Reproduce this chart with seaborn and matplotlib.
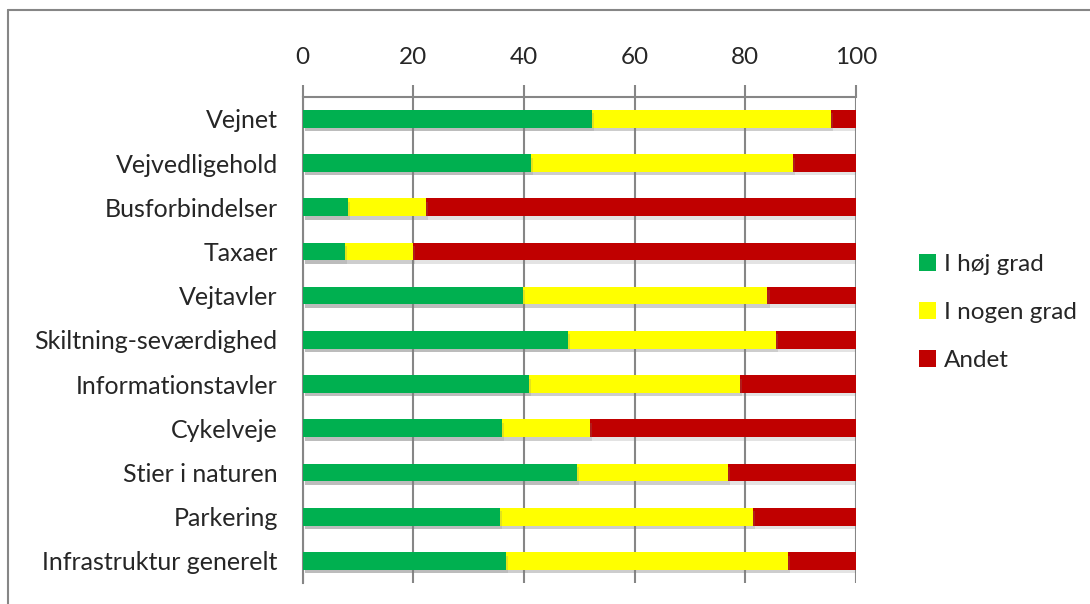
import pandas as pd
import matplotlib.pyplot as plt
import matplotlib.patheffects as pe
from matplotlib.patches import Patch
from matplotlib.lines import Line2D
import seaborn as sns

# data (percent)
categories = ['Vejnet', 'Vejvedligehold', 'Busforbindelser', 'Taxaer', 'Vejtavler',
              'Skiltning-seværdighed', 'Informationstavler', 'Cykelveje',
              'Stier i naturen', 'Parkering', 'Infrastruktur generelt']
hoej_grad = [52.2, 41.2, 8.1, 7.7, 39.8, 47.9, 40.9, 36.0, 49.5, 35.7, 36.7]
nogen_grad = [43.2, 47.4, 14.2, 12.2, 44.2, 37.7, 38.2, 15.9, 27.4, 45.6, 51.0]
andet = [100 - a - b for a, b in zip(hoej_grad, nogen_grad)]

series_names = ['I høj grad', 'I nogen grad', 'Andet']
colors = ['#00B050', '#FFFF00', '#C00000']

df = pd.DataFrame({'cat': categories, 'green': hoej_grad, 'yellow': nogen_grad, 'red': andet})
df['c_yellow'] = df['green'] + df['yellow']
df['c_red'] = df['c_yellow'] + df['red']

sns.set_style('white')
plt.rcParams['font.family'] = ['Lato', 'DejaVu Sans']

fig = plt.figure(figsize=(10.9, 6.04), dpi=100)
ax = fig.add_axes([0.2777, 0.0348, 0.7853 - 0.2777, 0.8399 - 0.0348])

# stacked bars: draw cumulative totals back to front
shadow = [pe.SimplePatchShadow(offset=(1.5, -2.5), shadow_rgbFace='gray', alpha=0.22), pe.Normal()]
for col, c in zip(['c_red', 'c_yellow', 'green'], colors[::-1]):
    sns.barplot(data=df, x=col, y='cat', orient='h', color=c, width=0.4,
                saturation=1, ax=ax, zorder=3)
for bar in ax.patches:
    bar.set_linewidth(0)
    bar.set_path_effects(shadow)

ax.set_xlim(0, 100)
ax.set_ylim(len(categories) - 0.5, -0.5)
ax.set_xlabel('')
ax.set_ylabel('')
ax.xaxis.tick_top()
ax.set_xticks([0, 20, 40, 60, 80, 100])
ax.tick_params(axis='x', length=9, width=1.5, color='#868686', pad=12, labelsize=17.5)
ax.grid(axis='x', color='#868686', linewidth=1.5, zorder=0)
ax.set_axisbelow(True)

# category labels, separators at boundaries
ax.set_yticks(range(len(categories)))
ax.set_yticklabels(categories)
ax.tick_params(axis='y', which='major', length=0, pad=18, labelsize=18)
ax.set_yticks([i + 0.5 for i in range(-1, len(categories))], minor=True)
ax.tick_params(axis='y', which='minor', length=8, width=1.5, color='#868686')

for s in ['right', 'bottom']:
    ax.spines[s].set_visible(False)
for s in ['top', 'left']:
    ax.spines[s].set_color('#868686')
    ax.spines[s].set_linewidth(1.5)

handles = [Patch(facecolor=c, edgecolor='none') for c in colors]
fig.legend(handles, series_names, loc='center left', bbox_to_anchor=(0.843, 0.483),
           frameon=False, fontsize=17.5, handlelength=0.7, handleheight=0.7,
           handletextpad=0.35, labelspacing=1.1, borderpad=0, borderaxespad=0)

# outer chart frame
fig.add_artist(Line2D([8 / 1090, 1], [1 - 10 / 604, 1 - 10 / 604], color='#868686', lw=1.5))
fig.add_artist(Line2D([8 / 1090, 8 / 1090], [0, 1 - 10 / 604], color='#868686', lw=1.5))

plt.savefig('out.png', dpi=100)
